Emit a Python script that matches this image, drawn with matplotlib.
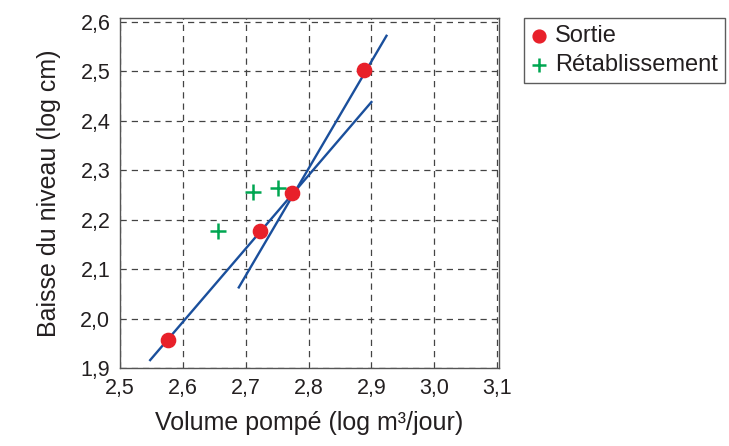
import matplotlib.pyplot as plt

plt.rcParams['font.family'] = ['Liberation Sans Narrow', 'Liberation Sans', 'DejaVu Sans']

# log volume pompé / log baisse du niveau
sortie_x = [2.577, 2.722, 2.773, 2.888]
sortie_y = [1.956, 2.178, 2.253, 2.503]

retab_x = [2.656, 2.711, 2.751]
retab_y = [2.178, 2.257, 2.264]

# droites d'ajustement (extrémités)
droite1_x = [2.548, 2.900]
droite1_y = [1.916, 2.438]
droite2_x = [2.689, 2.924]
droite2_y = [2.063, 2.572]

xticks = [2.5, 2.6, 2.7, 2.8, 2.9, 3.0, 3.1]
yticks = [1.9, 2.0, 2.1, 2.2, 2.3, 2.4, 2.5, 2.6]

txt = '#231f20'
bleu = '#1a4f9c'

fig = plt.figure(figsize=(7.29, 4.46), dpi=100)
ax = fig.add_axes([120 / 729, 1 - 368 / 446, 379 / 729, 350 / 446])

ax.plot(droite1_x, droite1_y, color=bleu, lw=1.7, zorder=3)
ax.plot(droite2_x, droite2_y, color=bleu, lw=1.7, zorder=3)
ax.scatter(sortie_x, sortie_y, s=105, color='#e8202a', zorder=4, label='Sortie')
ax.scatter(retab_x, retab_y, s=130, marker='+', color='#00a651', linewidths=1.8,
           zorder=4, label='Rétablissement')

ax.set_xlim(2.5, 3.103)
ax.set_ylim(1.9, 2.608)
ax.set_xticks(xticks)
ax.set_xticklabels([f'{v:.1f}'.replace('.', ',') for v in xticks])
ax.set_yticks(yticks)
ax.set_yticklabels([f'{v:.1f}'.replace('.', ',') for v in yticks])
ax.tick_params(length=0, labelsize=15.5, colors=txt)
ax.tick_params(axis='y', pad=7)
ax.tick_params(axis='x', pad=7)
ax.grid(True, color='#444444', linestyle=(0, (5, 4)), lw=0.9)

for s in ax.spines.values():
    s.set_color('#555555')
    s.set_linewidth(1.0)

ax.set_xlabel('Volume pompé (log m³/jour)', fontsize=18, color=txt, labelpad=9)
ax.set_ylabel('Baisse du niveau (log cm)', fontsize=18, color=txt, labelpad=14)

fig.legend(loc='upper left', bbox_to_anchor=(524 / 729, 1 - 18 / 446),
           frameon=True, fancybox=False, edgecolor='#333333', fontsize=17,
           handlelength=0.7, handletextpad=0.3, borderpad=0.3,
           labelspacing=0.3, borderaxespad=0, labelcolor=txt, markerscale=0.9)

fig.savefig('out.png', dpi=100)
